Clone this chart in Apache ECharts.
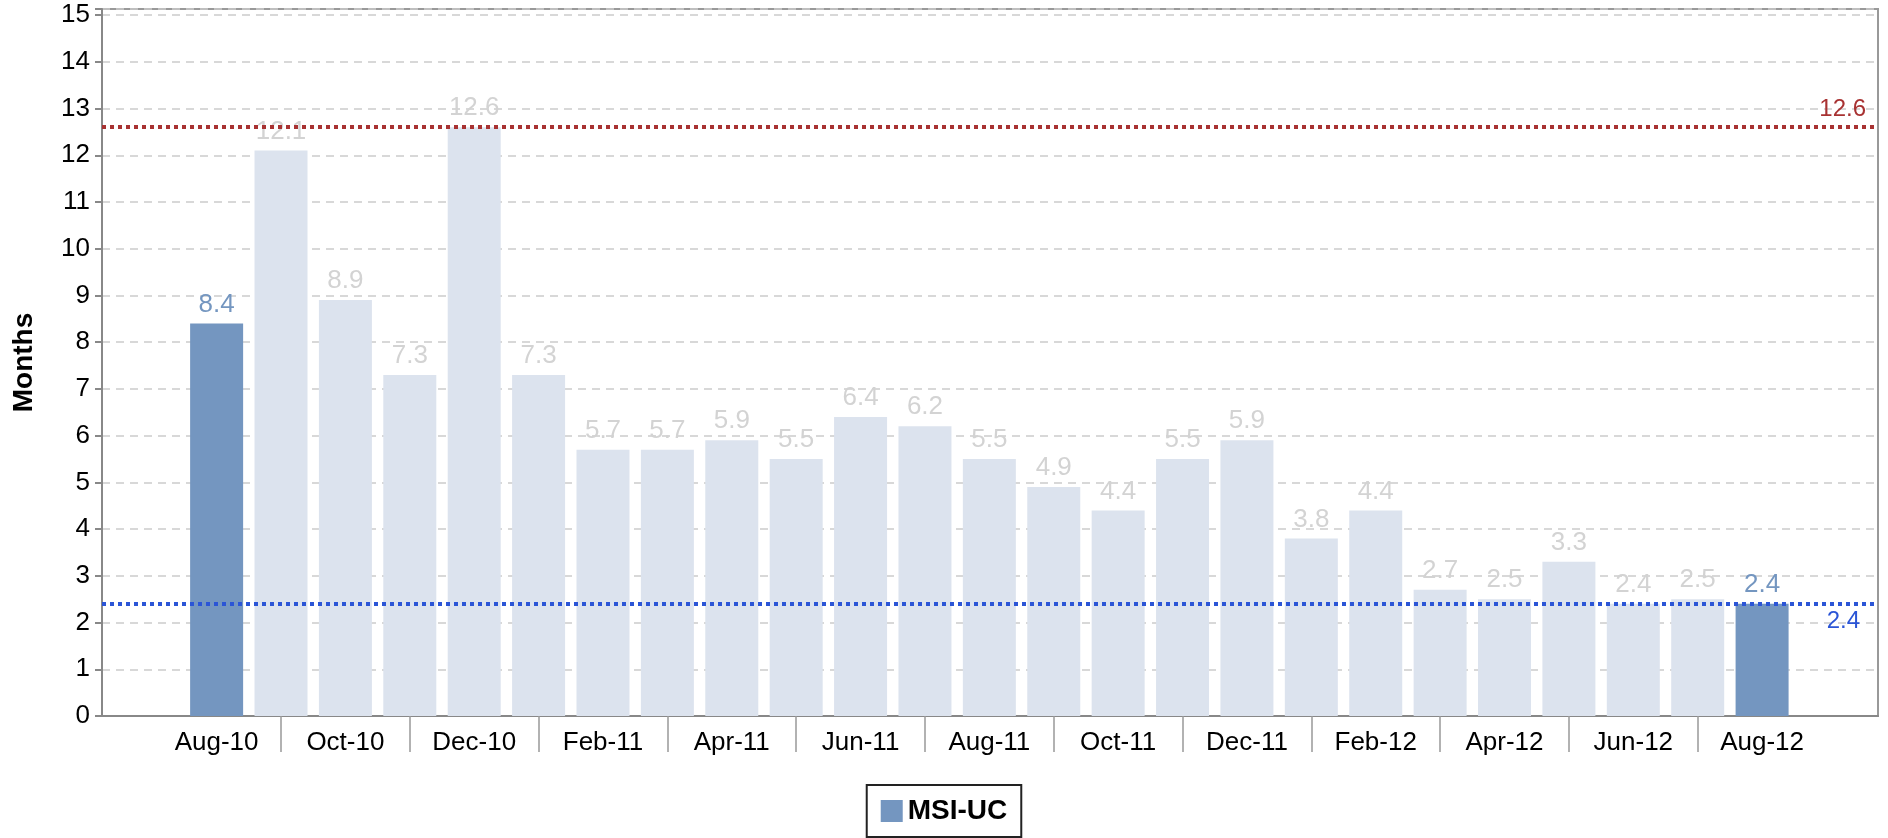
<!DOCTYPE html>
<html>
<head>
<meta charset="utf-8">
<script src="https://cdn.jsdelivr.net/npm/echarts@6/dist/echarts.min.js"></script>
<style>
  html, body { margin: 0; padding: 0; background: #fff; }
  #chart { width: 1888px; height: 838px; }
</style>
</head>
<body>
<div id="chart"></div>
<script>
var months = ['Aug-10', 'Sep-10', 'Oct-10', 'Nov-10', 'Dec-10', 'Jan-11', 'Feb-11', 'Mar-11',
              'Apr-11', 'May-11', 'Jun-11', 'Jul-11', 'Aug-11', 'Sep-11', 'Oct-11', 'Nov-11',
              'Dec-11', 'Jan-12', 'Feb-12', 'Mar-12', 'Apr-12', 'May-12', 'Jun-12', 'Jul-12', 'Aug-12'];
var msiUc = [8.4, 12.1, 8.9, 7.3, 12.6, 7.3, 5.7, 5.7, 5.9, 5.5, 6.4, 6.2, 5.5,
             4.9, 4.4, 5.5, 5.9, 3.8, 4.4, 2.7, 2.5, 3.3, 2.4, 2.5, 2.4];
var highlighted = [0, 24];
var labelIdx = [0, 2, 4, 6, 8, 10, 12, 14, 16, 18, 20, 22, 24];
var tickIdx = [1, 3, 5, 7, 9, 11, 13, 15, 17, 19, 21, 23];
var maxLine = 12.6,
    lastLine = 2.4;

var FONT = 'Liberation Sans, Arial, sans-serif';
var DARK = '#7496c0',
    LIGHT = '#dce3ee';

var chart = echarts.init(document.getElementById('chart'));

var barData = msiUc.map(function(v, i) {
  var hi = highlighted.indexOf(i) >= 0;
  return {
    value: [i, v],
    itemStyle: {color: hi ? DARK : LIGHT},
    label: {color: hi ? DARK : '#d3d3d3'}
  };
});

var option = {
  animation: false,
  textStyle: {fontFamily: FONT},
  grid: {
    left: 102, right: 10, top: 9, bottom: 122,
    show: true, borderColor: '#999', borderWidth: 2
  },
  legend: {
    bottom: 1,
    left: 'center',
    data: ['MSI-UC'],
    icon: 'rect',
    itemWidth: 22,
    itemHeight: 22,
    itemGap: 6,
    padding: [12, 14],
    borderColor: '#222',
    borderWidth: 2,
    textStyle: {fontFamily: FONT, fontSize: 28, fontWeight: 'bold', color: '#000'}
  },
  xAxis: {
    type: 'value',
    min: -1.78,
    max: 25.8,
    splitLine: {show: false},
    axisLine: {show: true, onZero: false, lineStyle: {color: '#888', width: 2}},
    axisTick: {
      show: true,
      customValues: tickIdx,
      length: 36,
      lineStyle: {color: '#999', width: 1.5}
    },
    axisLabel: {
      customValues: labelIdx,
      color: '#000',
      fontSize: 26,
      fontFamily: FONT,
      margin: 14,
      formatter: function(v) { return months[Math.round(v)]; }
    }
  },
  yAxis: {
    type: 'value',
    min: 0,
    max: 15.13,
    interval: 1,
    name: 'Months',
    nameLocation: 'middle',
    nameGap: 64,
    nameTextStyle: {fontFamily: FONT, fontSize: 28, fontWeight: 'bold', color: '#000'},
    axisLine: {show: true, onZero: false, lineStyle: {color: '#888', width: 2}},
    axisTick: {show: true, length: 7, lineStyle: {color: '#888', width: 2}},
    axisLabel: {
      color: '#000',
      fontSize: 26,
      fontFamily: FONT,
      margin: 12,
      formatter: function(v) { return Math.abs(v - Math.round(v)) < 1e-6 ? String(v) : ''; }
    },
    splitLine: {lineStyle: {color: '#ccc', type: [8, 6], width: 1.5}}
  },
  series: [
    {
      name: 'MSI-UC',
      type: 'bar',
      barWidth: 53,
      itemStyle: {color: DARK},
      data: barData,
      label: {
        show: true,
        position: 'top',
        distance: 6,
        fontSize: 26,
        fontFamily: FONT,
        formatter: function(p) { return p.value[1].toFixed(1); }
      },
      markLine: {
        silent: true,
        symbol: 'none',
        data: [
          {
            yAxis: maxLine,
            lineStyle: {color: '#a83232', type: [4, 4], width: 4},
            label: {position: 'insideEndTop', color: '#a83232', fontSize: 24, fontFamily: FONT,
                    distance: [12, 6], formatter: String(maxLine)}
          },
          {
            yAxis: lastLine,
            lineStyle: {color: '#2b55d6', type: [4, 4], width: 4},
            label: {position: 'insideEndBottom', color: '#2b55d6', fontSize: 24, fontFamily: FONT,
                    distance: [18, 6], formatter: String(lastLine)}
          }
        ]
      }
    }
  ]
};

chart.setOption(option);
</script>
</body>
</html>
